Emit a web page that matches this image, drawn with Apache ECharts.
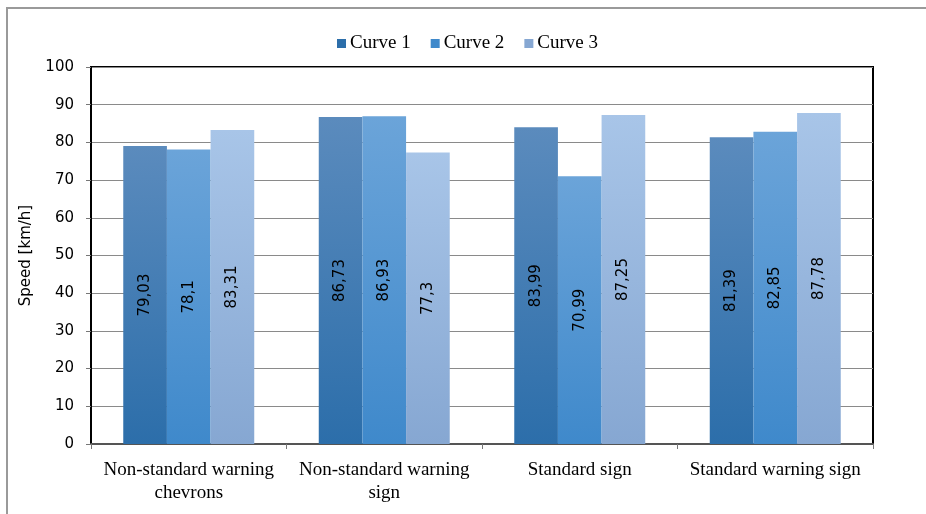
<!DOCTYPE html>
<html><head><meta charset="utf-8">
<script src="https://cdn.jsdelivr.net/npm/echarts@6/dist/echarts.min.js"></script>
<style>html,body{margin:0;padding:0;background:#fff}#c{width:926px;height:514px}</style>
</head><body><div id="c"></div>
<script>
const categories = ["Non-standard warning\nchevrons", "Non-standard warning\nsign", "Standard sign", "Standard warning sign"];
const seriesNames = ["Curve 1", "Curve 2", "Curve 3"];
const curve1 = [79.03, 86.73, 83.99, 81.39];
const curve2 = [78.1, 86.93, 70.99, 82.85];
const curve3 = [83.31, 77.3, 87.25, 87.78];
const yTicks = [0, 10, 20, 30, 40, 50, 60, 70, 80, 90, 100];

const colors = [["#5b8bbd", "#2c6eaa"], ["#6ba4d9", "#3f89cb"], ["#a8c5e8", "#86a7d2"]];
const values = [curve1, curve2, curve3];
const grad = c => new echarts.graphic.LinearGradient(0, 0, 0, 1, [{offset: 0, color: c[0]}, {offset: 1, color: c[1]}]);

const chart = echarts.init(document.getElementById('c'));
chart.setOption({
  animation: false,
  graphic: [{type: 'rect', shape: {x: 7, y: 8, width: 1000, height: 1000}, style: {fill: 'none', stroke: '#9a9a9a', lineWidth: 2}, silent: true}],
  legend: {
    top: 29, left: 332, itemWidth: 9, itemHeight: 9, itemGap: 20,
    icon: 'rect',
    textStyle: {fontFamily: 'Liberation Serif', fontSize: 19, color: '#000', padding: [0, 0, 0, -1]},
    data: seriesNames.map((n, i) => ({name: n, itemStyle: {color: colors[i][1]}}))
  },
  grid: {left: 91, right: 53, top: 67, bottom: 70, show: true, borderColor: '#000', borderWidth: 2, backgroundColor: 'transparent'},
  xAxis: {
    type: 'category', data: categories,
    axisLine: {lineStyle: {color: '#555', width: 2}},
    axisTick: {show: true, length: 5, lineStyle: {color: '#777'}},
    axisLabel: {fontFamily: 'Liberation Serif', fontSize: 19, color: '#000', lineHeight: 23, margin: 15, interval: 0}
  },
  yAxis: {
    type: 'value', min: 0, max: 100, interval: 10,
    name: 'Speed [km/h]', nameLocation: 'middle', nameGap: 57, nameRotate: 90,
    nameTextStyle: {fontFamily: 'DejaVu Sans', fontSize: 15, color: '#000'},
    axisLine: {show: true, lineStyle: {color: '#000', width: 2}},
    axisTick: {show: true, length: 5, lineStyle: {color: '#777'}},
    splitLine: {lineStyle: {color: '#8a8a8a', width: 1}},
    axisLabel: {fontFamily: 'DejaVu Sans', fontSize: 15, color: '#000', margin: 17,
      formatter: v => yTicks.includes(v) ? String(v) : ''}
  },
  series: values.map((vals, i) => ({
    name: seriesNames[i], type: 'bar', data: vals,
    barGap: '0%', barCategoryGap: '33%',
    itemStyle: {color: grad(colors[i])},
    label: {show: true, position: 'inside', rotate: 90, fontFamily: 'DejaVu Sans', fontSize: 15, color: '#000',
      formatter: p => String(p.value).replace('.', ',')}
  }))
});
</script></body></html>
